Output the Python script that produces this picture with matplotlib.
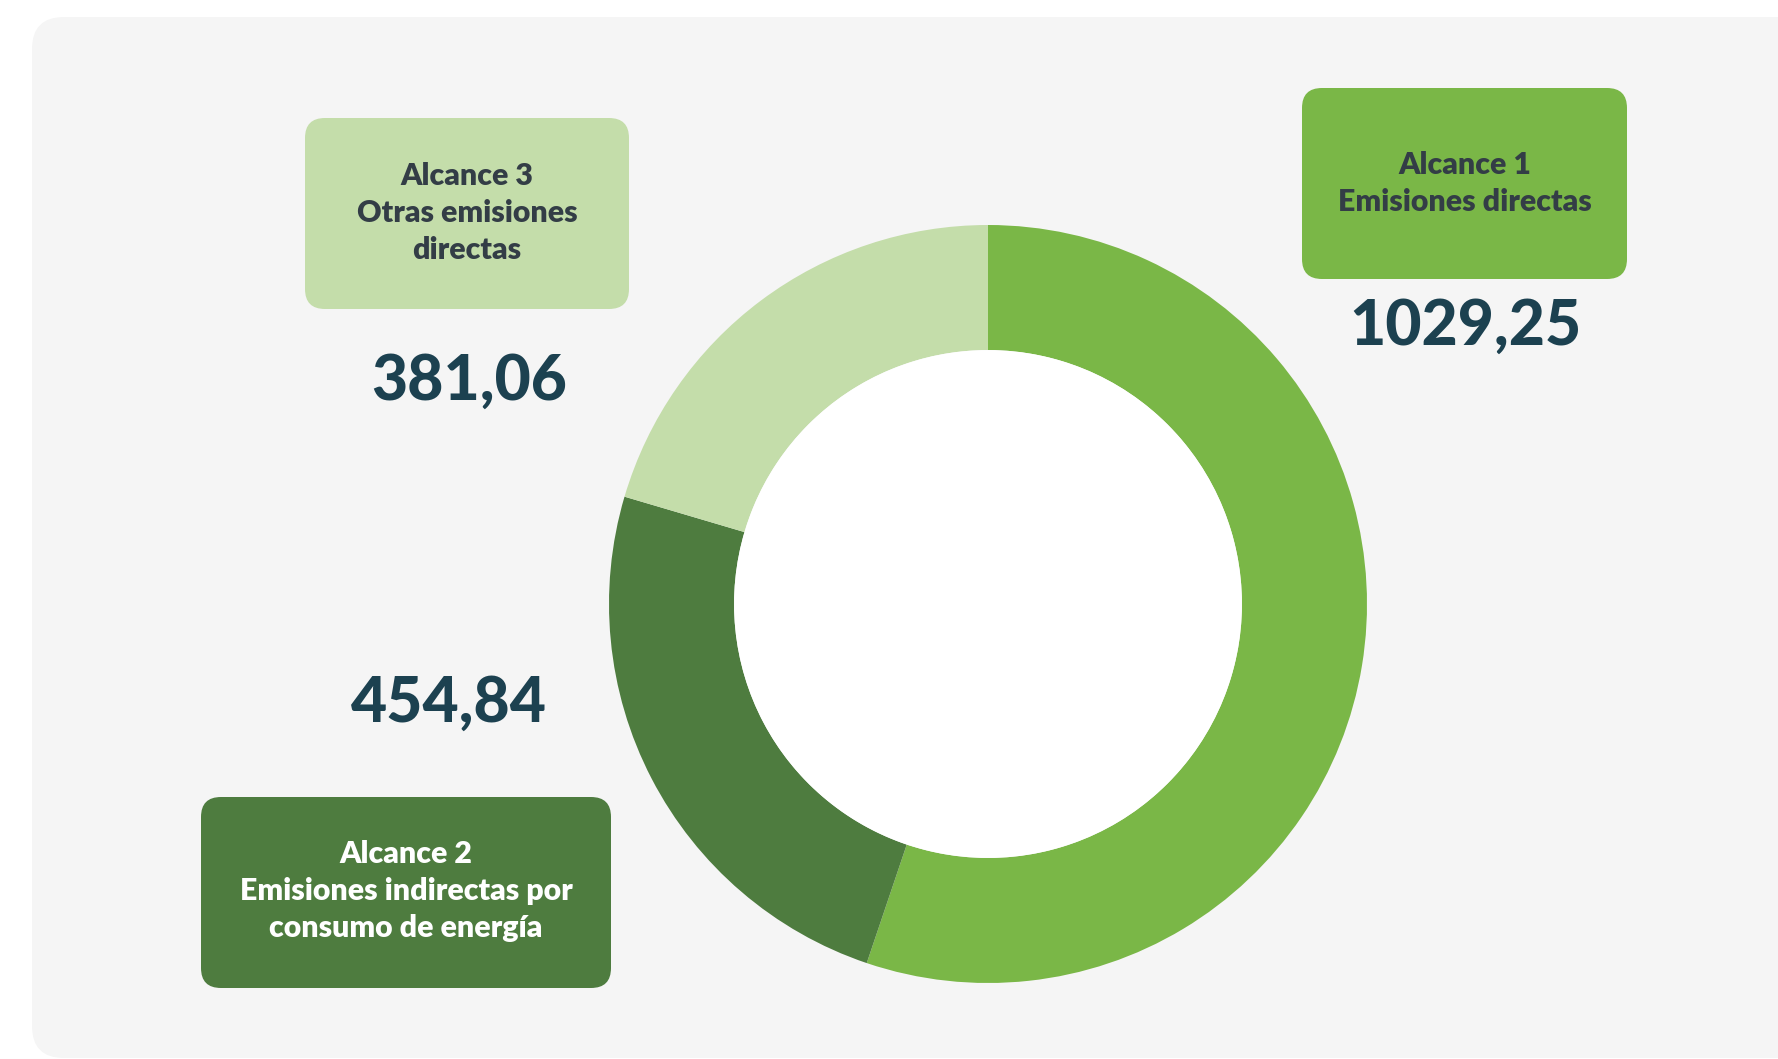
import matplotlib
matplotlib.use("Agg")
import matplotlib.pyplot as plt
from matplotlib.patches import FancyBboxPatch, Circle

# ---- data ----
categories = ["Alcance 1", "Alcance 2", "Alcance 3"]
descriptions = ["Emisiones directas",
                "Emisiones indirectas por\nconsumo de energía",
                "Otras emisiones\ndirectas"]
values = [1029.25, 454.84, 381.06]
value_labels = ["1029,25", "454,84", "381,06"]
colors = ["#7ab747", "#4e7c3f", "#c4ddaa"]
label_text_colors = ["#333d46", "#ffffff", "#333d46"]

W, H = 1778, 1059
FONT = "Lato"
fig = plt.figure(figsize=(W / 100, H / 100), dpi=100)
fig.patch.set_facecolor("white")

# background / annotation axes in pixel coordinates
bg = fig.add_axes([0, 0, 1, 1])
bg.set_xlim(0, W)
bg.set_ylim(H, 0)
bg.axis("off")

panel = FancyBboxPatch((32, 17), W - 32 + 40, 1058 - 17,
                       boxstyle="round,pad=0,rounding_size=32",
                       fc="#f5f5f5", ec="none")
bg.add_patch(panel)

# label boxes (x0, y0, x1, y1) in px
boxes = [(1302, 88, 1627, 279), (201, 797, 611, 988), (305, 118, 629, 309)]
title_line_y = [(165, 202), (854, 891, 928), (176, 213, 250)]
value_pos = [(1465, 327), (449, 704), (469, 382)]

for i in range(3):
    x0, y0, x1, y1 = boxes[i]
    bg.add_patch(FancyBboxPatch((x0, y0), x1 - x0, y1 - y0,
                                boxstyle="round,pad=0,rounding_size=20",
                                fc=colors[i], ec="none"))
    lines = [categories[i]] + descriptions[i].split("\n")
    for ln, yy in zip(lines, title_line_y[i]):
        bg.text((x0 + x1) / 2, yy, ln, ha="center", va="center",
                fontsize=21.8, fontweight="heavy", family=FONT,
                color=label_text_colors[i])
    bg.text(value_pos[i][0], value_pos[i][1], value_labels[i],
            ha="center", va="center", fontsize=45, fontweight="black",
            family=FONT, color="#1c4150")

# donut
cx, cy, r = 988, 604, 379
ax = fig.add_axes([(cx - r) / W, (H - cy - r) / H, 2 * r / W, 2 * r / H])
ax.pie(values, colors=colors, startangle=90, counterclock=False,
       radius=1.0, wedgeprops=dict(width=0.33, edgecolor="none"))
ax.add_patch(Circle((0, 0), 0.67, fc="white", ec="none"))
ax.set_xlim(-1, 1)
ax.set_ylim(-1, 1)
ax.set_aspect("equal")
ax.axis("off")

fig.savefig("out.png", dpi=100, facecolor="white")
